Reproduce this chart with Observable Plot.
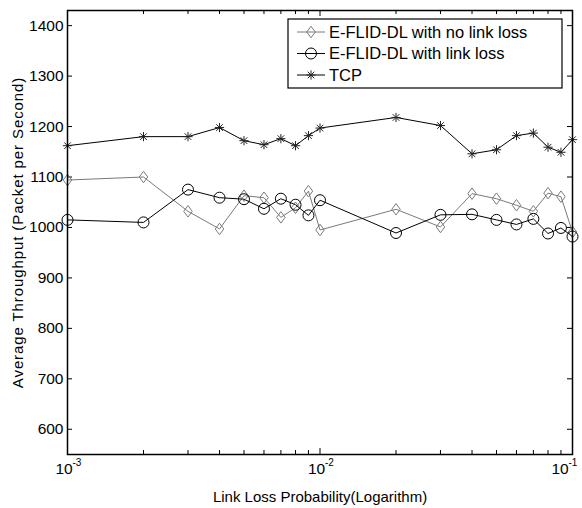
<!DOCTYPE html>
<html><head><meta charset="utf-8">
<script src="https://cdn.jsdelivr.net/npm/d3@7"></script>
<script src="https://cdn.jsdelivr.net/npm/@observablehq/plot@0.6"></script>
<style>body{margin:0;background:#fff} svg{display:block}</style>
</head><body><div id="chart"></div>
<script>
const probs = [0.001,0.002,0.003,0.004,0.005,0.006,0.007,0.008,0.009,0.01,0.02,0.03,0.04,0.05,0.06,0.07,0.08,0.09,0.1];
const noLinkLoss = [1094,1100,1032,997,1063,1059,1020,1039,1072,995,1036,1001,1067,1057,1044,1032,1068,1061,991];
const withLinkLoss = [1015,1010,1075,1059,1056,1037,1057,1045,1024,1054,989,1025,1026,1015,1006,1017,988,999,982];
const tcp = [1162,1180,1180,1198,1172,1164,1176,1162,1182,1197,1218,1202,1146,1154,1182,1187,1159,1149,1174];
const seriesNames = ["E-FLID-DL with no link loss","E-FLID-DL with link loss","TCP"];
const yTicks = [600,700,800,900,1000,1100,1200,1300,1400];
const xMajor = [0.001,0.01,0.1];
const xExp = ["-3","-2","-1"];
const xMinor = [0.002,0.003,0.004,0.005,0.006,0.007,0.008,0.009,0.02,0.03,0.04,0.05,0.06,0.07,0.08,0.09];
const yLabel = "Average Throughput (Packet per Second)";
const xLabel = "Link Loss Probability(Logarithm)";

const W = 582, H = 508, mL = 67, mR = 10, mT = 10, mB = 54;
const FW = W - mL - mR, FH = H - mT - mB;
const GRAY = "#7a7a7a";

const diamondSym = {draw(ctx, size){const r=Math.sqrt(size/Math.PI);const w=r*0.85,h=r*1.15;ctx.moveTo(0,-h);ctx.lineTo(w,0);ctx.lineTo(0,h);ctx.lineTo(-w,0);ctx.closePath();}};
const starSym = {draw(ctx, size){const r=Math.sqrt(size/Math.PI);ctx.moveTo(0,-r);ctx.lineTo(0,r);ctx.moveTo(-r,0);ctx.lineTo(r,0);const d=r*0.72;ctx.moveTo(-d,-d);ctx.lineTo(d,d);ctx.moveTo(-d,d);ctx.lineTo(d,-d);}};

const rows = (vals) => probs.map((p,i)=>({p, v: vals[i]}));
const dNo = rows(noLinkLoss), dWith = rows(withLinkLoss), dTcp = rows(tcp);

const font = "'Liberation Sans', Arial, sans-serif";
const baseDx = [-12, -12, -21];

const chart = Plot.plot({
  width: W, height: H, marginLeft: mL, marginRight: mR, marginTop: mT, marginBottom: mB,
  x: {type: "log", domain: [0.001, 0.1], axis: null},
  y: {domain: [550, 1430], axis: null},
  style: {fontFamily: font, fontSize: "15px", background: "#fff", color: "#000"},
  marks: [
    Plot.tickX(xMajor, {x: d=>d, insetTop: FH-6, stroke: "#000"}),
    Plot.tickX(xMajor, {x: d=>d, insetBottom: FH-6, stroke: "#000"}),
    Plot.tickX(xMinor, {x: d=>d, insetTop: FH-4, stroke: "#000"}),
    Plot.tickX(xMinor, {x: d=>d, insetBottom: FH-4, stroke: "#000"}),
    Plot.tickY(yTicks, {y: d=>d, insetRight: FW-5, stroke: "#000"}),
    Plot.tickY(yTicks, {y: d=>d, insetLeft: FW-5, stroke: "#000"}),
    Plot.text(yTicks, {y: d=>d, text: d=>String(d), frameAnchor: "left", textAnchor: "end", lineAnchor: "middle", dx: -4, fontSize: 15.5, fill: "#000"}),
    ...xMajor.map((v, i) => Plot.text([v], {x: d=>d, text: ()=>"10", frameAnchor: "bottom", textAnchor: "start", lineAnchor: "bottom", dx: baseDx[i], dy: 19, fontSize: 15.5, fill: "#000"})),
    ...xMajor.map((v, i) => Plot.text([v], {x: d=>d, text: ()=>xExp[i], frameAnchor: "bottom", textAnchor: "start", lineAnchor: "bottom", dx: baseDx[i] + 17, dy: 11, fontSize: 10, fill: "#000"})),
    Plot.text([yLabel], {text: d=>d, frameAnchor: "left", rotate: -90, textAnchor: "middle", lineAnchor: "middle", dx: -49, fontSize: 15, fill: "#000"}),
    Plot.text([xLabel], {text: d=>d, frameAnchor: "bottom", textAnchor: "middle", lineAnchor: "bottom", dy: 47, fontSize: 15, fill: "#000"}),
    Plot.line(dNo, {x: "p", y: "v", stroke: GRAY, strokeWidth: 1}),
    Plot.line(dWith, {x: "p", y: "v", stroke: "#000", strokeWidth: 1}),
    Plot.line(dTcp, {x: "p", y: "v", stroke: "#000", strokeWidth: 1}),
    Plot.dot(dNo, {x: "p", y: "v", symbol: diamondSym, r: 5, stroke: GRAY, fill: "none", strokeWidth: 1}),
    Plot.dot(dWith, {x: "p", y: "v", symbol: "circle", r: 5.5, stroke: "#000", fill: "none", strokeWidth: 1}),
    Plot.dot(dTcp, {x: "p", y: "v", symbol: starSym, r: 4.6, stroke: "#222", fill: "none", strokeWidth: 1}),
    Plot.frame({stroke: "#000", strokeWidth: 1.5})
  ]
});
document.getElementById("chart").appendChild(chart);

const svg = d3.select(chart);
svg.selectAll("text").filter(function(){ return this.textContent === yLabel; }).attr("letter-spacing", "0.9px");

const lg = svg.append("g").attr("font-family", font).attr("font-size", 16.5).attr("text-anchor", "start");
const bx = 288, by = 19, bw = 274, bh = 69;
lg.append("rect").attr("x", bx).attr("y", by).attr("width", bw).attr("height", bh).attr("fill", "#fff").attr("stroke", "#000").attr("stroke-width", 1.2);
const syms = [diamondSym, d3.symbolCircle, starSym];
const strokes = [GRAY, "#000", "#222"];
const lineStrokes = [GRAY, "#000", "#000"];
const sizes = [Math.PI*25, Math.PI*30.25, Math.PI*21];
seriesNames.forEach((name, i) => {
  const cy = by + 13 + i * 21.5;
  lg.append("line").attr("x1", bx+9).attr("x2", bx+37).attr("y1", cy).attr("y2", cy).attr("stroke", lineStrokes[i]).attr("stroke-width", 1);
  lg.append("path").attr("d", d3.symbol(syms[i], sizes[i])()).attr("transform", `translate(${bx+23},${cy})`).attr("fill", "none").attr("stroke", strokes[i]).attr("stroke-width", 1);
  lg.append("text").attr("x", bx+41).attr("y", cy).attr("dy", "0.35em").attr("text-anchor", "start").attr("fill", "#000").text(name);
});
</script></body></html>
